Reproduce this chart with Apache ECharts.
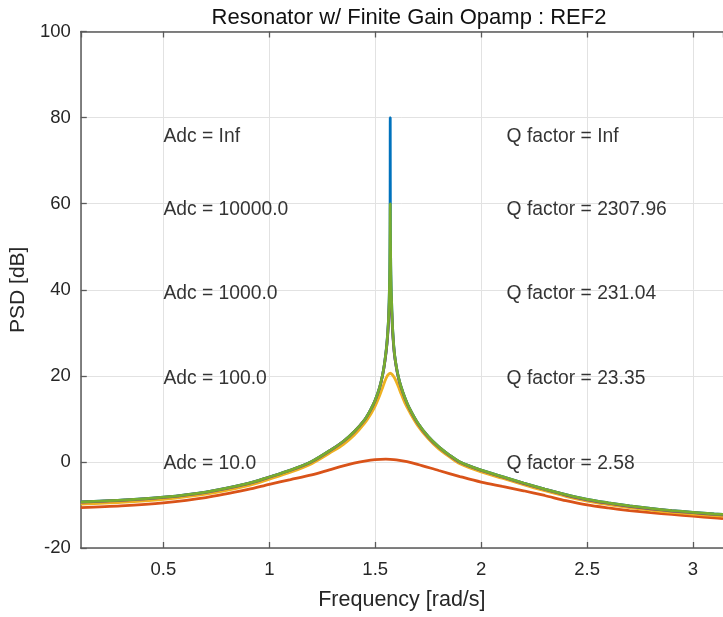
<!DOCTYPE html>
<html>
<head>
<meta charset="utf-8">
<script src="https://cdn.jsdelivr.net/npm/echarts@6/dist/echarts.min.js"></script>
<style>html,body{margin:0;padding:0;background:#fff;}#c{width:723px;height:617px;}</style>
</head>
<body>
<div id="c"></div>
<script>
// ---- data ----
const titleText = 'Resonator w/ Finite Gain Opamp : REF2';
const xLabel = 'Frequency [rad/s]';
const yLabel = 'PSD [dB]';

// frequency samples for the high-Q curves (Adc = Inf, 1000, 10000)
const xHigh = [0.11,0.3,0.5,0.7,0.9,1.0,1.1,1.2,1.3,1.35,1.4,1.45,1.48,1.5,1.52,1.535,1.545,1.555,1.562,1.566,1.568,1.569,1.570,1.5708,1.5716,1.573,1.575,1.578,1.582,1.59,1.6,1.61,1.62,1.64,1.66,1.7,1.75,1.8,1.85,1.9,2.0,2.1,2.2,2.3,2.4,2.5,2.6,2.7,2.8,2.9,3.0,3.1,3.1416];
const yInf   = [-9.3,-8.9,-8.2,-7.0,-5.0,-3.5,-1.9,0.1,3.1,4.8,7.0,9.8,12.3,14.4,17.2,20.3,23.3,27.5,32.5,38,43,47,54,80,54,46,41,36,31,25.5,22,19.6,17.8,14.9,12.6,9.1,5.9,3.5,1.6,0.0,-1.9,-3.4,-4.9,-6.3,-7.6,-8.7,-9.5,-10.2,-10.8,-11.3,-11.7,-12.1,-12.2];
const y10000 = [-9.3,-8.9,-8.2,-7.0,-5.0,-3.5,-1.9,0.1,3.1,4.8,7.0,9.8,12.3,14.4,17.2,20.3,23.3,27.5,32.5,38,43,47,54,60,54,46,41,36,31,25.5,22,19.6,17.8,14.9,12.6,9.1,5.9,3.5,1.6,0.0,-1.9,-3.4,-4.9,-6.3,-7.6,-8.7,-9.5,-10.2,-10.8,-11.3,-11.7,-12.1,-12.2];
const y1000  = [-9.35,-8.95,-8.25,-7.05,-5.05,-3.55,-1.95,0.05,3.05,4.75,6.95,9.75,12.2,14.3,17.1,20.2,23.1,27.2,31.8,36,38.5,39.3,39.9,40,39.9,38.8,37.2,34.5,30.2,25.2,21.8,19.4,17.6,14.8,12.5,9.0,5.8,3.4,1.5,-0.1,-2.0,-3.5,-5.0,-6.4,-7.7,-8.8,-9.6,-10.3,-10.9,-11.4,-11.8,-12.2,-12.3];

// Adc = 100
const xMid = [0.11,0.3,0.5,0.7,0.9,1.0,1.1,1.2,1.3,1.35,1.4,1.45,1.48,1.5,1.52,1.535,1.545,1.555,1.562,1.5708,1.58,1.59,1.6,1.61,1.62,1.64,1.66,1.7,1.75,1.8,1.85,1.9,2.0,2.1,2.2,2.3,2.4,2.5,2.6,2.7,2.8,2.9,3.0,3.1,3.1416];
const y100 = [-9.8,-9.4,-8.7,-7.5,-5.5,-4.0,-2.4,-0.4,2.5,4.1,6.2,9.0,11.2,13.0,15.3,17.3,18.7,19.8,20.3,20.6,20.3,19.6,18.6,17.4,16.1,13.7,11.8,8.5,5.4,3.0,1.2,-0.4,-2.3,-3.8,-5.3,-6.7,-8.0,-9.1,-9.9,-10.6,-11.2,-11.7,-12.1,-12.5,-12.6];

// Adc = 10
const xLow = [0.11,0.3,0.5,0.7,0.9,1.0,1.1,1.2,1.3,1.4,1.45,1.5,1.55,1.5708,1.6,1.65,1.7,1.8,1.9,2.0,2.1,2.2,2.3,2.4,2.5,2.6,2.7,2.8,2.9,3.0,3.1,3.1416];
const y10  = [-10.6,-10.2,-9.5,-8.3,-6.4,-5.2,-4.1,-3.0,-1.6,-0.3,0.2,0.55,0.65,0.6,0.45,0.05,-0.55,-2.0,-3.4,-4.7,-5.7,-6.7,-7.8,-9.0,-10.0,-10.7,-11.3,-11.8,-12.2,-12.6,-13.0,-13.2];

// annotations
const adcLabels = ['Adc = Inf','Adc = 10000.0','Adc = 1000.0','Adc = 100.0','Adc = 10.0'];
const qLabels   = ['Q factor = Inf','Q factor = 2307.96','Q factor = 231.04','Q factor = 23.35','Q factor = 2.58'];
const labelY    = [75.5, 58.7, 39.0, 19.3, -0.5];
const adcLabelX = 0.5;
const qLabelX   = 2.12;

// ---- chart ----
const zip = (xs, ys) => xs.map((x, i) => [x, ys[i]]);
const FONT = 'Liberation Sans, Arial, sans-serif';
const AX = '#5a5a5a';
const TXT = '#262626';

const chart = echarts.init(document.getElementById('c'), null, {renderer: 'canvas'});
const lineSeries = (name, data, color) => ({
  name, type: 'line', data, showSymbol: false, symbol: 'none', smooth: 0.3,
  lineStyle: {color, width: 2.8}, xAxisIndex: 0, yAxisIndex: 0, z: 3
});
const textSeries = (xs, labels) => ({
  type: 'scatter', symbolSize: 0, silent: true, z: 5,
  data: labels.map((t, i) => ({value: [xs, labelY[i]], name: t})),
  label: {show: true, position: 'right', distance: 0, formatter: p => p.name,
    color: '#000', fontSize: 19.3, fontFamily: FONT, textBorderWidth: 0}
});

chart.setOption({
  animation: false,
  title: {text: titleText, left: 404, top: 2, textAlign: 'center',
    textStyle: {fontSize: 22, fontWeight: 'normal', color: '#111', fontFamily: FONT}},
  grid: {left: 80.7, right: -8, top: 31.5, bottom: 69, containLabel: false},
  xAxis: [{
    type: 'value', min: 0.11, max: 3.1416, minInterval: 0.5, maxInterval: 0.5, splitNumber: 6,
    name: xLabel, nameLocation: 'middle', nameGap: 41,
    nameTextStyle: {fontSize: 21.5, color: TXT, fontFamily: FONT},
    axisLine: {show: true, onZero: false, lineStyle: {color: AX, width: 1.5}},
    axisTick: {show: true, inside: true, length: 6, lineStyle: {color: AX, width: 1.3}},
    axisLabel: {fontSize: 18.5, color: TXT, fontFamily: FONT, margin: 12, showMinLabel: false, showMaxLabel: false},
    splitLine: {show: true, lineStyle: {color: '#e2e2e2', width: 1}}
  }, {
    type: 'value', position: 'top', min: 0.11, max: 3.1416, minInterval: 0.5, maxInterval: 0.5, splitNumber: 6,
    axisLine: {show: true, onZero: false, lineStyle: {color: AX, width: 1.5}},
    axisTick: {show: true, inside: true, length: 6, lineStyle: {color: AX, width: 1.3}},
    axisLabel: {show: false}, splitLine: {show: false}
  }],
  yAxis: [{
    type: 'value', min: -20, max: 100, interval: 20,
    name: yLabel, nameLocation: 'middle', nameGap: 46, nameRotate: 90,
    nameTextStyle: {fontSize: 21, color: TXT, fontFamily: FONT},
    axisLine: {show: true, onZero: false, lineStyle: {color: AX, width: 1.5}},
    axisTick: {show: true, inside: true, length: 6, lineStyle: {color: AX, width: 1.3}},
    axisLabel: {fontSize: 18.5, color: TXT, fontFamily: FONT, margin: 10},
    splitLine: {show: true, lineStyle: {color: '#e2e2e2', width: 1}}
  }],
  series: [
    lineSeries('Adc = Inf', zip(xHigh, yInf), '#0072BD'),
    lineSeries('Adc = 10', zip(xLow, y10), '#D95319'),
    lineSeries('Adc = 100', zip(xMid, y100), '#EDB120'),
    lineSeries('Adc = 1000', zip(xHigh, y1000), '#7E2F8E'),
    lineSeries('Adc = 10000', zip(xHigh, y10000), '#77AC30'),
    textSeries(adcLabelX, adcLabels),
    textSeries(qLabelX, qLabels)
  ]
});
</script>
</body>
</html>
